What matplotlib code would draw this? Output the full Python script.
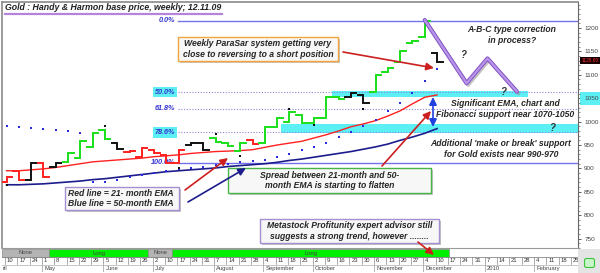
import matplotlib
matplotlib.use("Agg")
import matplotlib.pyplot as plt
from matplotlib.patches import Rectangle, FancyBboxPatch

plt.rcParams['font.family'] = ['Liberation Sans', 'DejaVu Sans']

# weekly bars, index 0 = week of Apr 10 2009 ... 35 = Dec 10 2009
bar_open = [872, 895, 875, 912, 904, 914, 922, 946, 982, 954, 936, 925,
            939, 929, 911, 950, 954, 965, 954, 938, 960, 954, 989, 1000,
            1014, 996, 1007, 1052, 1052, 1057, 1064, 1106, 1128, 1168, 1180, 1147]
bar_close = [881, 875, 912, 882, 912, 932, 959, 976, 963, 941, 938, 943,
             932, 911, 939, 954, 940, 957, 947, 954, 952, 989, 1007, 1020,
             996, 1007, 1052, 1048, 1062, 1040, 1100, 1115, 1150, 1173, 1215, 1127]
bar_color = "rrkrkggggkrrrrrkkgggrgggggggkkgggggk"

# 21 and 50 period EMAs
ema21 = [895, 895, 897, 899, 902, 906, 910, 914, 916, 918, 920, 922,
         925, 927, 929, 932, 934, 936, 937, 938, 940, 945, 950, 954,
         958, 965, 972, 980, 989, 995, 1002, 1012, 1023, 1038, 1052, 1057]
ema50 = [865, 865, 866, 867, 869, 871, 873, 876, 878, 881, 884, 887,
         890, 893, 895, 897, 899, 901, 904, 906, 908, 910, 913, 917,
         920, 924, 928, 932, 936, 941, 946, 952, 960, 967, 975, 985]

# parabolic SAR dots
sar = [991, 988, 986, 984, 981, 979, 976, 872, 870, 876, 881, 885,
       890, 895, 898, 901, 904, 907, 910, 913, 916, 919, 925, 931,
       939, 946, 954, 967, 978, 991, 1003, 1023, 1040, 1062, 1087, 1112]

# fractal marks
frac_weeks = [0, 8, 14, 17, 19, 23, 25, 29]
frac_vals = [865, 991, 900, 974, 927, 1028, 992, 1028]

# Fibonacci retracement
fib_labels = ["0.0%", "50.0%", "61.8%", "78.6%", "100.0%"]
fib_levels = [1215, 1063, 1028, 977, 912]
fib_boxed = [False, True, False, True, False]

# support zones (week from, week to, price low, price high)
zones = [(26.5, 42.4, 1052, 1066), (22.3, 46.5, 976, 995)]

# projected A-B-C path
abc_weeks = [34.0, 37.4, 39.1, 41.5]
abc_price = [1217, 1082, 1135, 1064]

# calendar strip
week_days = ["10", "17", "24", "1", "8", "15", "22", "29", "5", "12", "19", "26",
             "2", "10", "17", "24", "31", "7", "14", "21", "28", "4", "11", "18",
             "25", "2", "9", "16", "23", "30", "6", "13", "20", "27", "4", "10",
             "17", "24", "31", "7", "14", "21", "28", "4", "11", "18", "25"]
months = ["ril", "May", "June", "July", "August", "September", "October",
          "November", "December", "2010", "February"]
month_start = [-0.37, 3, 8, 12, 17, 21, 25, 30, 34, 39, 43]
state_names = ["None", "Long", "None", "Long"]
state_start = [-0.37, 3.46, 11.5, 13.46]
state_end = [3.46, 11.5, 13.46, 35.98]

colors = {"r": "#ff2020", "g": "#19e019", "k": "#111111"}
XL = (-0.37, 46.46)

fig = plt.figure(figsize=(6, 2.73), dpi=100)
fig.patch.set_facecolor("white")

ax = fig.add_axes([2 / 600, 25 / 273, 576 / 600, 246 / 273])
ax.set_xlim(*XL)
ax.set_ylim(729.9, 1255.6)
ax.set_xticks([])
ax.yaxis.tick_right()
ax.set_yticks(range(750, 1201, 50))
ax.set_yticks(range(730, 1251, 10), minor=True)
ax.tick_params(axis="y", which="major", labelsize=4.6, length=2.5, pad=2,
               colors="#444444", width=0.6)
ax.tick_params(axis="y", which="minor", length=1.2, width=0.5, colors="#666666")
for s in ["left", "top"]:
    ax.spines[s].set_color("#8a8a8a")
    ax.spines[s].set_linewidth(1.2)
ax.spines["bottom"].set_color("#9a9a9a")
ax.spines["right"].set_color("#666666")
ax.spines["right"].set_linewidth(0.8)
for lab in ax.get_yticklabels():
    if lab.get_text() == "1050":
        lab.set_bbox(dict(boxstyle="square,pad=0.6", fc="#5cf0f5", ec="none"))

# zones
for x0, x1, p0, p1 in zones:
    ax.add_patch(Rectangle((x0, p0), x1 - x0, p1 - p0, fc="#5cf0f5", ec="none", zorder=1))

# fibonacci lines
fib_x0 = 13.94
for lab, lvl, boxed in zip(fib_labels, fib_levels, fib_boxed):
    if lab in ("0.0%", "100.0%"):
        ax.plot([fib_x0, XL[1]], [lvl, lvl], color="#7272ee", lw=1.0, zorder=2)
    else:
        ax.plot([fib_x0, XL[1]], [lvl, lvl], color="#8888dd", lw=0.8,
                ls=(0, (1, 1.5)), zorder=2)
    bb = dict(boxstyle="square,pad=0.25", fc="#5cf0f5", ec="none") if boxed else None
    ax.text(fib_x0 - 0.25, lvl, lab, ha="right", va="center", fontsize=5.2,
            style="italic", fontweight="bold", color="#3434d0", bbox=bb, zorder=3)

# EMAs
weeks = list(range(len(ema21)))
ax.plot(weeks, ema50, color="#1c1c8c", lw=1.2, zorder=3)
ax.plot(weeks, ema21, color="#ff2020", lw=1.0, zorder=3)

# SAR and fractals
ax.scatter(weeks, sar, marker="s", s=2.2, color="#2a2ae0", lw=0, zorder=4)
ax.scatter(frac_weeks, frac_vals, marker="s", s=3, color="#111111", lw=0, zorder=4)

# weekly bars
for i, (o, c, col) in enumerate(zip(bar_open, bar_close, bar_color)):
    ax.plot([i - 0.45, i, i, i + 0.45], [o, o, c, c], color=colors[col],
            lw=1.4, solid_joinstyle="miter", zorder=5)

# A-B-C path
ax.plot([w + 0.12 for w in abc_weeks], [p - 4 for p in abc_price],
        color="#9a9a9a", lw=2.6, alpha=0.6, zorder=5, solid_capstyle="round")
ax.plot(abc_weeks, abc_price, color="#8454c4", lw=3.0, zorder=6, solid_capstyle="round")
ax.plot(abc_weeks, abc_price, color="#b894ea", lw=1.6, zorder=7, solid_capstyle="round")

# calendar strip
sx = fig.add_axes([2 / 600, 1 / 273, 576 / 600, 23 / 273])
sx.set_xlim(*XL)
sx.set_ylim(0, 23)
sx.axis("off")
for nm, a, b in zip(state_names, state_start, state_end):
    fc = "#b4b4b4" if nm == "None" else "#00ee00"
    sx.add_patch(Rectangle((a, 15), b - a, 8, fc=fc, ec="#8a8a8a", lw=0.5))
    sx.text((a + b) / 2, 19, nm, ha="center", va="center", fontsize=4.2, color="#444444")
sx.plot(XL, [15, 15], color="#8a8a8a", lw=0.6)
sx.plot(XL, [7, 7], color="#bbbbbb", lw=0.6)
for i, d in enumerate(week_days):
    s = i - 0.12
    sx.plot([s, s], [8.5, 15], color="#8a8a8a", lw=0.5)
    sx.text(s + 0.15, 11, d, ha="left", va="center", fontsize=4.2, color="#333333")
for m, s in zip(months, month_start):
    if s > 0:
        sx.plot([s - 0.12, s - 0.12], [0.5, 7], color="#9a9a9a", lw=0.5)
    sx.text(s + 0.05, 3.5, m, ha="left", va="center", fontsize=4.2, color="#444444")

# overlay in pixel coordinates for notes
ov = fig.add_axes([0, 0, 1, 1])
ov.set_xlim(0, 600)
ov.set_ylim(273, 0)
ov.axis("off")
ov.patch.set_alpha(0)

ov.add_patch(Rectangle((578, 249), 22, 24, fc="#e4e4e4", ec="none"))
ov.add_patch(FancyBboxPatch((585, 259), 9, 8, boxstyle="round,pad=0.5,rounding_size=2",
                            fc="#c8f5c8", ec="#3cc43c", lw=0.8))

ov.text(5, 7.5, "Gold : Handy & Harmon base price, weekly; 12.11.09", ha="left",
        va="center", fontsize=6.3, style="italic", fontweight="bold", color="#222222")
ov.plot([5, 222], [14, 14], color="#b583d8", lw=1.6)

ov.text(590, 60.5, "1128.60", ha="center", va="center", fontsize=3.4, color="#ff3030",
        bbox=dict(boxstyle="square,pad=0.25", fc="#1a0000", ec="none"))

note_kw = dict(ha="center", va="center", fontsize=6.2, style="italic",
               fontweight="bold", color="#262626", linespacing=1.15)


def box(x0, y0, x1, y1, ec):
    ov.add_patch(Rectangle((x0 + 2, y0 + 2), x1 - x0, y1 - y0, fc="#c4c4c4", ec="none"))
    ov.add_patch(Rectangle((x0, y0), x1 - x0, y1 - y0, fc="#f7f7f7", ec=ec, lw=1.0))


box(178, 37, 338, 61, "#f3a43b")
ov.text(258, 49, "Weekly ParaSar system getting very\nclose to reversing to a short position", **note_kw)

ov.text(512, 35, "A-B-C type correction\nin process?", **note_kw)
ov.text(505, 109, "Significant EMA, chart and\nFibonacci support near 1070-1050", **note_kw)
ov.text(501, 149, "Additional 'make or break' support\nfor Gold exists near 990-970", **note_kw)

box(228, 168, 431, 193, "#45b545")
ov.text(330, 180.5, "Spread between 21-month and 50-\nmonth EMA is starting to flatten", **note_kw)

box(65, 187, 179, 210, "#a58fd0")
ov.text(68, 198.5, "Red line = 21- month EMA\nBlue line = 50-month EMA",
        **{**note_kw, "ha": "left"})

box(260, 219, 439, 243, "#a58fd0")
ov.text(349.5, 231, "Metastock Profitunity expert advisor still\nsuggests a strong trend, however ........",
        **note_kw)

for q in [(463, 55), (503, 92), (552, 128)]:
    ov.text(q[0], q[1], "?", ha="center", va="center", fontsize=7, style="italic",
            fontweight="bold", color="#333333")

arrows = [((343, 52), (434, 68), "#cc2020", "-|>"),
          ((382, 166), (431, 111), "#cc2020", "-|>"),
          ((185, 190), (228, 158), "#cc2020", "-|>"),
          ((188, 202), (246, 168), "#1c1c8c", "-|>"),
          ((418, 242), (434, 255), "#cc2020", "-|>"),
          ((433, 97), (433, 127), "#2040e0", "<|-|>")]
for a, b, col, st in arrows:
    ov.annotate("", xy=b, xytext=a, xycoords="data",
                arrowprops=dict(arrowstyle=st + ",head_length=0.45,head_width=0.22",
                                color=col, lw=1.2, shrinkA=0, shrinkB=0))

fig.savefig("out.png", dpi=100)
